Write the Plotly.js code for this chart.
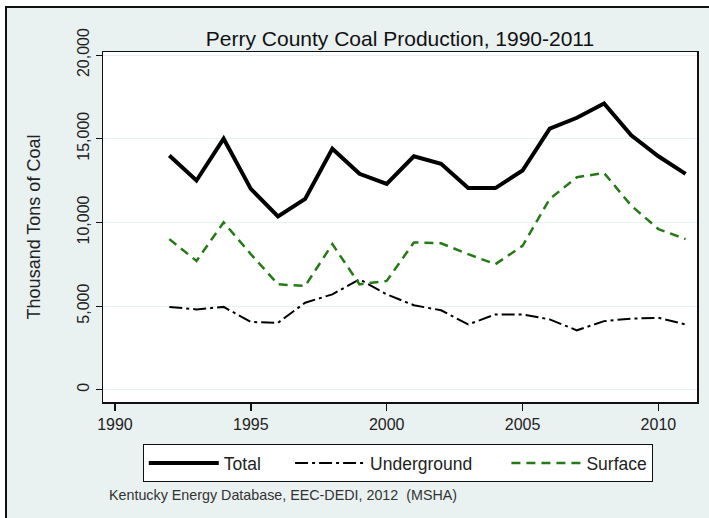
<!DOCTYPE html>
<html>
<head>
<meta charset="utf-8">
<script src="https://cdn.plot.ly/plotly-3.0.1.min.js"></script>
<style>
html,body{margin:0;padding:0;background:#ffffff;}
#bg{position:absolute;left:5px;top:6px;width:720px;height:530px;background:#eaf1f1;border-top:2px solid #111;border-left:2px solid #111;}
#chart{position:absolute;left:0;top:0;width:709px;height:518px;}
</style>
</head>
<body>
<div id="bg"></div>
<div id="chart"></div>
<script>
const years = [1992,1993,1994,1995,1996,1997,1998,1999,2000,2001,2002,2003,2004,2005,2006,2007,2008,2009,2010,2011];
const total = [14000,12500,15000,12000,10350,11400,14400,12900,12300,13950,13500,12050,12050,13100,15600,16250,17100,15200,13950,12900];
const underground = [4950,4800,4950,4050,4000,5200,5700,6600,5700,5050,4750,3900,4500,4500,4200,3550,4100,4250,4300,3900];
const surface = [9000,7700,10000,8100,6300,6200,8700,6300,6500,8800,8750,8100,7500,8600,11400,12700,12950,11000,9600,9000];
const yTicks = [0,5000,10000,15000,20000];
const xTicks = [1990,1995,2000,2005,2010];
const seriesNames = ['Total', 'Underground', 'Surface'];

const font = 'Liberation Sans, Arial, sans-serif';
const nb = n => '\u00a0'.repeat(n);
const traces = [
  {x: years, y: total, name: seriesNames[0] + nb(5), mode: 'lines', line: {color: '#000000', width: 4}},
  {x: years, y: underground, name: seriesNames[1] + nb(6), mode: 'lines', line: {color: '#000000', width: 2, dash: '13px,4px,3px,4px'}},
  {x: years, y: surface, name: seriesNames[2], mode: 'lines', line: {color: '#267a16', width: 2.5, dash: '9px,6px'}}
];
const layout = {
  width: 709, height: 518,
  margin: {l: 103, r: 12, t: 52, b: 116},
  paper_bgcolor: 'rgba(0,0,0,0)',
  plot_bgcolor: '#ffffff',
  font: {family: font, color: '#222222', size: 16},
  title: {text: 'Perry County Coal Production, 1990-2011', font: {family: font, size: 21, color: '#111111'}, x: 0.5, xref: 'paper', y: 0.925, yref: 'container', yanchor: 'middle'},
  xaxis: {
    range: [1989.56, 2011.42], tickvals: xTicks, ticktext: xTicks.map(String),
    ticks: 'outside', ticklen: 7, tickwidth: 1.5, tickcolor: '#111',
    showline: true, linecolor: '#111', linewidth: 1.5, mirror: true,
    showgrid: false, zeroline: false, tickfont: {size: 16, color: '#222'}
  },
  yaxis: {
    range: [-733, 20180], tickvals: yTicks, tickformat: ',',
    ticks: 'outside', ticklen: 6, tickwidth: 1, tickcolor: '#111', tickangle: -90,
    showline: true, linecolor: '#111', linewidth: 1.5, mirror: true,
    showgrid: true, gridcolor: '#e6f1f1', gridwidth: 1, zeroline: false,
    tickfont: {size: 16, color: '#222'},
    title: {text: 'Thousand Tons of Coal', font: {size: 18, color: '#222'}, standoff: 30}
  },
  showlegend: true,
  legend: {
    orientation: 'h', x: 0.067, xanchor: 'left', y: -0.12, yanchor: 'top',
    bgcolor: '#ffffff', bordercolor: '#111', borderwidth: 1,
    font: {size: 17.5, color: '#222'}, itemwidth: 70, traceorder: 'normal'
  },
  annotations: [
    {text: 'Kentucky Energy Database, EEC-DEDI, 2012  (MSHA)', xref: 'paper', yref: 'paper',
     x: (107-103)/594, xanchor: 'left', y: (402-495)/350, yanchor: 'middle', showarrow: false,
     font: {size: 14.3, color: '#333'}}
  ]
};
Plotly.newPlot('chart', traces, layout, {displayModeBar: false, staticPlot: true});
</script>
</body>
</html>
